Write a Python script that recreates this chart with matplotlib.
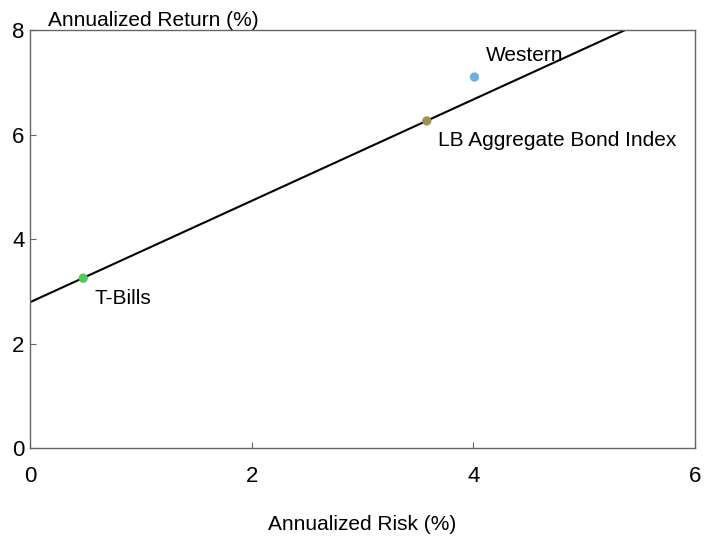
import matplotlib
matplotlib.use('Agg')
import matplotlib.pyplot as plt

plt.rcParams['font.family'] = ['Liberation Sans', 'DejaVu Sans']

# data
names = ['T-Bills', 'LB Aggregate Bond Index', 'Western']
risk = [0.48, 3.58, 4.01]
ret = [3.25, 6.26, 7.10]
colors = ['#52c75a', '#a38f55', '#6fb0e0']
label_dx = [0.1, 0.1, 0.1]
label_dy = [-0.38, -0.38, 0.42]

# capital market line end points
line_x = [0.0, 5.37]
line_y = [2.79, 8.0]

fig = plt.figure(figsize=(7.11, 5.41), dpi=100)
ax = fig.add_axes([0.0422, 0.1719, 0.9353, 0.7726])

ax.plot(line_x, line_y, color='black', lw=1.5, zorder=2)
ax.scatter(risk, ret, c=colors, s=45, zorder=3, edgecolors='none')
for n, x, y, dx, dy in zip(names, risk, ret, label_dx, label_dy):
    ax.text(x + dx, y + dy, n, fontsize=15, va='center', ha='left')

ax.set_xlim(0, 6)
ax.set_ylim(0, 8)
ax.set_xticks([0, 2, 4, 6])
ax.set_yticks([0, 2, 4, 6, 8])
ax.tick_params(direction='in', length=4, width=0.8, color='#666666',
               labelsize=16, pad=4)
ax.tick_params(axis='x', pad=13)
for s in ax.spines.values():
    s.set_color('#666666')
    s.set_linewidth(1)

ax.set_xlabel('Annualized Risk (%)', fontsize=15, labelpad=20)
fig.text(0.067, 0.962, 'Annualized Return (%)', fontsize=15, va='center', ha='left')

fig.savefig('out.png', dpi=100)
